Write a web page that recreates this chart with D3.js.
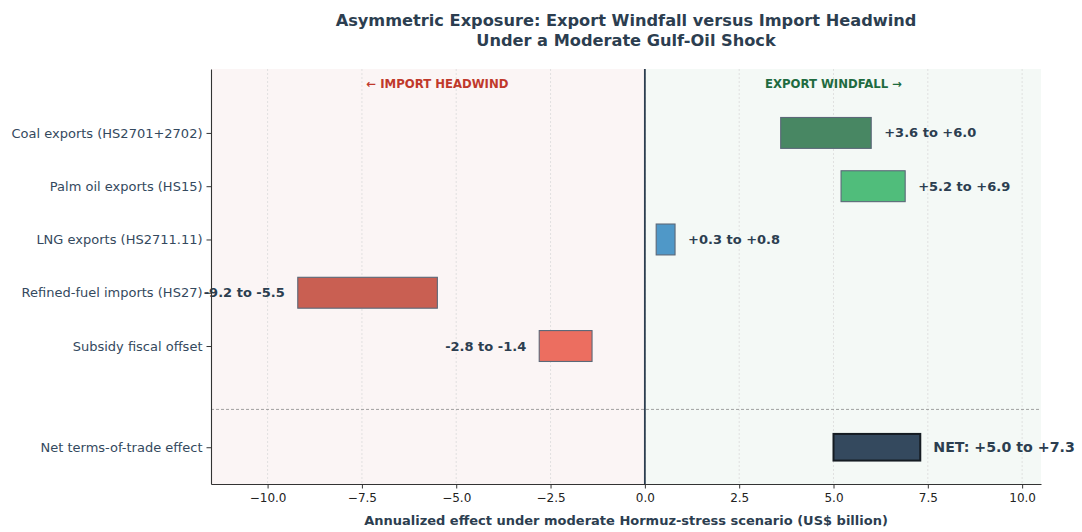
<!DOCTYPE html>
<html>
<head>
<meta charset="utf-8">
<script src="https://cdn.jsdelivr.net/npm/d3@7/dist/d3.min.js"></script>
<style>
  html, body { margin: 0; padding: 0; background: #ffffff; }
  svg { display: block; font-family: "DejaVu Sans", sans-serif; }
</style>
</head>
<body>
<svg id="chart" width="1082" height="532"></svg>
<script>
// Scenario components (US$ billion, annualized)
const categories = [
  "Coal exports (HS2701+2702)",
  "Palm oil exports (HS15)",
  "LNG exports (HS2711.11)",
  "Refined-fuel imports (HS27)",
  "Subsidy fiscal offset",
  "Net terms-of-trade effect"
];
const lowValues  = [3.6, 5.2, 0.3, -9.2, -2.8, 5.0];
const highValues = [6.0, 6.9, 0.8, -5.5, -1.4, 7.3];
const barColors  = ["#488763", "#50bd7b", "#4f98c8", "#c95f52", "#ec6e60", "#34495e"];
const xTicks = [-10, -7.5, -5, -2.5, 0, 2.5, 5, 7.5, 10];

const svg = d3.select("#chart");
const margin = { left: 211, right: 1041, top: 69, bottom: 484 };
const textColor = "#2c3e50";

// Row slots: components stacked from the top, net row after a gap
const netIndex = categories.length - 1;
const slot = i => (i === netIndex ? netIndex + 0.9 : i);
const separatorSlot = netIndex + 0.19;

const x = d3.scaleLinear().domain([-11.5, 10.5]).range([margin.left, margin.right]);
const y = d3.scaleLinear().domain([-1.2, 6.59]).range([margin.top, margin.bottom]);

// Shaded halves
svg.append("rect")
  .attr("x", x(-11.5)).attr("y", margin.top)
  .attr("width", x(0) - x(-11.5)).attr("height", margin.bottom - margin.top)
  .attr("fill", "#fbf5f5");
svg.append("rect")
  .attr("x", x(0)).attr("y", margin.top)
  .attr("width", x(10.5) - x(0)).attr("height", margin.bottom - margin.top)
  .attr("fill", "#f4f9f6");

// Vertical dotted grid
svg.append("g").selectAll("line").data(xTicks).join("line")
  .attr("x1", d => x(d)).attr("x2", d => x(d))
  .attr("y1", margin.top).attr("y2", margin.bottom)
  .attr("stroke", "#dadada").attr("stroke-width", 0.8)
  .attr("stroke-dasharray", "2,2");

// Section headers
svg.append("text")
  .attr("x", x(-5.5)).attr("y", y(-0.92))
  .attr("text-anchor", "middle").attr("dominant-baseline", "central")
  .attr("font-size", 11.7).attr("font-weight", "bold").attr("fill", "#c0392b")
  .text("\u2190 IMPORT HEADWIND");
svg.append("text")
  .attr("x", x(5.0)).attr("y", y(-0.92))
  .attr("text-anchor", "middle").attr("dominant-baseline", "central")
  .attr("font-size", 11.7).attr("font-weight", "bold").attr("fill", "#1e6b40")
  .text("EXPORT WINDFALL \u2192");

// Separator between components and net
svg.append("line")
  .attr("x1", margin.left).attr("x2", margin.right)
  .attr("y1", y(separatorSlot)).attr("y2", y(separatorSlot))
  .attr("stroke", "#8a8a8a").attr("stroke-width", 0.8)
  .attr("stroke-dasharray", "3,2");

// Zero line
svg.append("line")
  .attr("x1", x(0)).attr("x2", x(0))
  .attr("y1", margin.top).attr("y2", margin.bottom)
  .attr("stroke", "#2c3e50").attr("stroke-width", 1.8);

// Range bars
const rows = categories.map((c, i) => ({ c, i, lo: lowValues[i], hi: highValues[i], color: barColors[i] }));
const barH = i => (i === netIndex ? 0.5 : 0.58);

svg.append("g").selectAll("rect").data(rows).join("rect")
  .attr("x", d => x(d.lo))
  .attr("width", d => x(d.hi) - x(d.lo))
  .attr("y", d => y(slot(d.i) - barH(d.i) / 2))
  .attr("height", d => y(slot(d.i) + barH(d.i) / 2) - y(slot(d.i) - barH(d.i) / 2))
  .attr("fill", d => d.color)
  .attr("stroke", d => (d.i === netIndex ? "#151c22" : "#5b6878"))
  .attr("stroke-width", d => (d.i === netIndex ? 2 : 1.1));

// Value labels
const fmt = v => (v > 0 ? "+" : v < 0 ? "-" : "") + Math.abs(v).toFixed(1);
svg.append("g").selectAll("text").data(rows).join("text")
  .attr("x", d => (d.hi > 0 ? x(d.hi) + 13 : x(d.lo) - 13))
  .attr("y", d => y(slot(d.i)))
  .attr("text-anchor", d => (d.hi > 0 ? "start" : "end"))
  .attr("dominant-baseline", "central")
  .attr("font-size", d => (d.i === netIndex ? 14.2 : 13))
  .attr("font-weight", "bold")
  .attr("fill", textColor)
  .text(d => (d.i === netIndex ? "NET: " : "") + fmt(d.lo) + " to " + fmt(d.hi));

// Axes
const xAxis = d3.axisBottom(x).tickValues(xTicks).tickSize(4.5).tickSizeOuter(0).tickPadding(5)
  .tickFormat(d => (d < 0 ? "\u2212" : "") + Math.abs(d).toFixed(1));
const gx = svg.append("g").attr("transform", `translate(0,${margin.bottom})`).call(xAxis);
gx.select(".domain").attr("stroke", "#333").attr("stroke-width", 1.1);
gx.selectAll(".tick line").attr("stroke", "#333");
gx.selectAll(".tick text").attr("font-size", 12).attr("fill", "#222").attr("font-family", "DejaVu Sans");

const yAxis = d3.axisLeft(y).tickValues(categories.map((c, i) => slot(i)))
  .tickFormat((d, i) => categories[i]).tickSize(4.5).tickSizeOuter(0).tickPadding(4);
const gy = svg.append("g").attr("transform", `translate(${margin.left},0)`).call(yAxis);
gy.select(".domain").attr("stroke", "#333").attr("stroke-width", 1.1);
gy.selectAll(".tick line").attr("stroke", "#333");
gy.selectAll(".tick text").attr("font-size", 13).attr("fill", "#34495e").attr("font-family", "DejaVu Sans");

// Axis title
svg.append("text")
  .attr("x", (margin.left + margin.right) / 2).attr("y", 520)
  .attr("text-anchor", "middle").attr("dominant-baseline", "central")
  .attr("font-size", 13).attr("font-weight", "bold").attr("fill", textColor)
  .text("Annualized effect under moderate Hormuz-stress scenario (US$ billion)");

// Chart title
const title = svg.append("text")
  .attr("text-anchor", "middle").attr("font-size", 16.2).attr("font-weight", "bold").attr("fill", textColor);
title.append("tspan").attr("x", 626).attr("y", 26).text("Asymmetric Exposure: Export Windfall versus Import Headwind");
title.append("tspan").attr("x", 626).attr("y", 46).text("Under a Moderate Gulf-Oil Shock");
</script>
</body>
</html>
